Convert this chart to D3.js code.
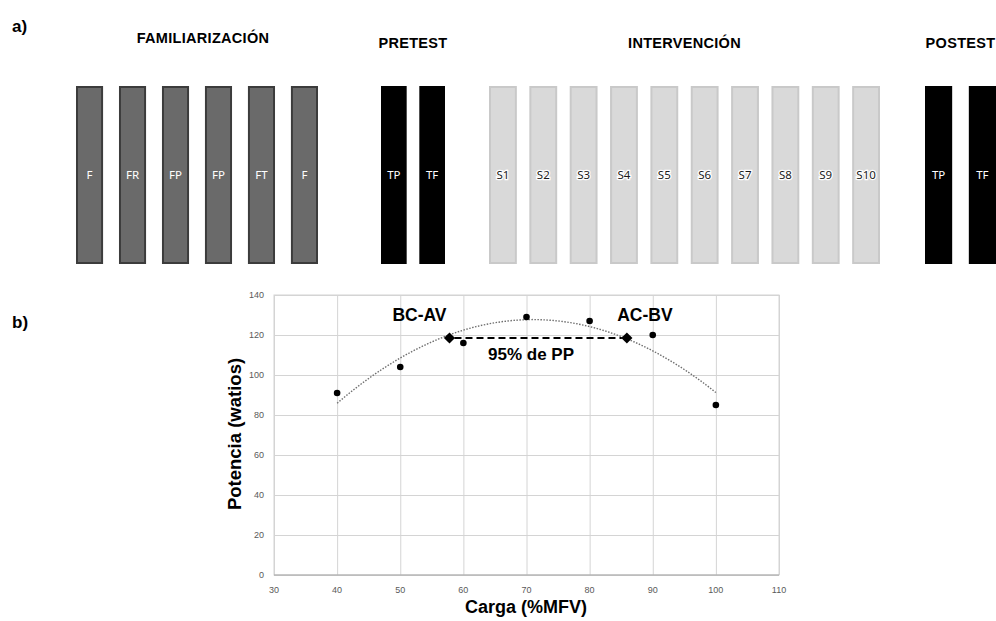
<!DOCTYPE html>
<html>
<head>
<meta charset="utf-8">
<script src="https://cdn.jsdelivr.net/npm/d3@7"></script>
<style>
  body { margin: 0; background: #fff; }
  svg { display: block; }
</style>
</head>
<body>
<svg width="996" height="621"></svg>
<script>
//phases of the study and the sessions inside each one
var phases = ["FAMILIARIZACIÓN", "PRETEST", "INTERVENCIÓN", "POSTEST"];
var famSessions = ["F", "FR", "FP", "FP", "FT", "F"];
var preSessions = ["TP", "TF"];
var intSessions = ["S1", "S2", "S3", "S4", "S5", "S6", "S7", "S8", "S9", "S10"];
var postSessions = ["TP", "TF"];

//load (%MFV) vs power (watts)
var carga = [40, 50, 60, 70, 80, 90, 100];
var potencia = [91, 104, 116, 129, 127, 120, 85];
//points where the curve crosses 95% of peak power
var cortes = [[57.8, 118.5], [85.9, 118.5]];
var corteLabels = ["BC-AV", "AC-BV"];

var xTicks = [30, 40, 50, 60, 70, 80, 90, 100, 110];
var yTicks = [0, 20, 40, 60, 80, 100, 120, 140];

var svg = d3.select("svg");

//---- panel a) ----
svg.append("text").attr("x", 12).attr("y", 32)
  .attr("font-family", "Liberation Sans, Arial").attr("font-weight", "bold")
  .attr("font-size", 17).text("a)");

var phaseSessions = [famSessions, preSessions, intSessions, postSessions];
var phaseRange = [[76, 318], [381, 445], [489, 880], [925, 996]];
var phasePad = [0.37, 0.33, 0.31, 0.38];
var phaseFill = ["#6a6a6a", "#000", "#d9d9d9", "#000"];
var phaseStroke = ["#3c3c3c", "#000", "#c9c9c9", "#000"];
var phaseText = ["#fff", "#fff", "#1a1a1a", "#fff"];

phases.forEach(function(p, i) {
  var band = d3.scaleBand()
    .domain(d3.range(phaseSessions[i].length))
    .range(phaseRange[i])
    .paddingInner(phasePad[i]);

  var g = svg.append("g").attr("class", "phase");

  g.append("text")
    .attr("x", (phaseRange[i][0] + phaseRange[i][1]) / 2 + (i == 0 ? 6 : 0))
    .attr("y", i == 0 ? 43 : 48)
    .attr("text-anchor", "middle")
    .attr("font-family", "Liberation Sans, Arial").attr("font-weight", "bold")
    .attr("font-size", 14.5).attr("letter-spacing", 0.3)
    .text(p);

  g.selectAll("rect")
    .data(phaseSessions[i])
    .enter().append("rect")
      .attr("x", function(d, j) { return band(j) + 1; })
      .attr("y", 87)
      .attr("width", band.bandwidth() - 2)
      .attr("height", 176)
      .attr("fill", phaseFill[i])
      .attr("stroke", phaseStroke[i])
      .attr("stroke-width", 2);

  g.selectAll("text.lab")
    .data(phaseSessions[i])
    .enter().append("text")
      .attr("class", "lab")
      .attr("x", function(d, j) { return band(j) + band.bandwidth() / 2; })
      .attr("y", 179)
      .attr("text-anchor", "middle")
      .attr("font-family", "Noto Sans, Open Sans")
      .attr("font-size", 11.5)
      .attr("fill", phaseText[i])
      .attr("stroke", i == 2 ? "#fff" : "none")
      .attr("stroke-width", 2.5)
      .attr("paint-order", "stroke")
      .text(function(d) { return d; });
});

//---- panel b) ----
svg.append("text").attr("x", 12).attr("y", 328)
  .attr("font-family", "Liberation Sans, Arial").attr("font-weight", "bold")
  .attr("font-size", 17).text("b)");

var x = d3.scaleLinear().domain([30, 110]).range([274, 779]);
var y = d3.scaleLinear().domain([0, 140]).range([575, 295]);

var chart = svg.append("g");

//gridlines
chart.append("g")
  .attr("transform", "translate(0,575)")
  .call(d3.axisBottom(x).tickValues(xTicks).tickSize(-280).tickFormat(""))
  .call(function(g) { g.select(".domain").remove(); })
  .selectAll("line").attr("stroke", "#d4d4d4");
chart.append("g")
  .attr("transform", "translate(274,0)")
  .call(d3.axisLeft(y).tickValues(yTicks).tickSize(-505).tickFormat(""))
  .call(function(g) { g.select(".domain").remove(); })
  .selectAll("line").attr("stroke", "#d4d4d4");
chart.append("rect").attr("x", 274).attr("y", 295).attr("width", 505).attr("height", 280)
  .attr("fill", "none").attr("stroke", "#d4d4d4");
chart.append("line").attr("x1", 274).attr("x2", 779).attr("y1", 575).attr("y2", 575)
  .attr("stroke", "#a6a6a6");

//tick labels
chart.selectAll("text.xt").data(xTicks).enter().append("text")
  .attr("x", function(d) { return x(d); }).attr("y", 593)
  .attr("text-anchor", "middle").attr("font-family", "Liberation Sans, Arial")
  .attr("font-size", 9).attr("fill", "#595959").text(function(d) { return d; });
chart.selectAll("text.yt").data(yTicks).enter().append("text")
  .attr("x", 264).attr("y", function(d) { return y(d) + 3; })
  .attr("text-anchor", "end").attr("font-family", "Liberation Sans, Arial")
  .attr("font-size", 9).attr("fill", "#595959").text(function(d) { return d; });

//axis titles
chart.append("text").attr("transform", "translate(241,434) rotate(-90)")
  .attr("text-anchor", "middle").attr("font-family", "Liberation Sans, Arial")
  .attr("font-weight", "bold").attr("font-size", 18.5).text("Potencia (watios)");
chart.append("text").attr("x", 526).attr("y", 613)
  .attr("text-anchor", "middle").attr("font-family", "Liberation Sans, Arial")
  .attr("font-weight", "bold").attr("font-size", 18).text("Carga (%MFV)");

//quadratic trend line fitted to the points (least squares)
var pts = carga.map(function(c, i) { return [c, potencia[i]]; });
var mx = d3.mean(carga);
var t = carga.map(function(c) { return (c - mx) / 10; });
var mt2 = d3.mean(t, function(v) { return v * v; });
var my = d3.mean(potencia);
var b1 = d3.sum(t, function(v, i) { return v * potencia[i]; }) / d3.sum(t, function(v) { return v * v; });
var b2 = d3.sum(t, function(v, i) { return (v * v - mt2) * potencia[i]; }) /
         d3.sum(t, function(v) { return (v * v - mt2) * (v * v - mt2); });
function fit(c) { var u = (c - mx) / 10; return my + b1 * u + b2 * (u * u - mt2); }
var curve = d3.range(d3.min(carga), d3.max(carga) + 0.5, 1).map(function(c) { return [c, fit(c)]; });

chart.append("path")
  .datum(curve)
  .attr("fill", "none").attr("stroke", "#6f6f6f").attr("stroke-width", 1.4)
  .attr("stroke-dasharray", "1.5,1.5")
  .attr("d", d3.line().x(function(d) { return x(d[0]); }).y(function(d) { return y(d[1]); }));

//dashed 95% line
chart.append("line")
  .attr("x1", x(cortes[0][0]) + 5).attr("x2", x(cortes[1][0]) - 5)
  .attr("y1", y(cortes[0][1])).attr("y2", y(cortes[1][1]))
  .attr("stroke", "#000").attr("stroke-width", 2).attr("stroke-dasharray", "7,4");

chart.selectAll("circle").data(pts).enter().append("circle")
  .attr("cx", function(d) { return x(d[0]); }).attr("cy", function(d) { return y(d[1]); })
  .attr("r", 3.3).attr("fill", "#000");

chart.selectAll("path.dia").data(cortes).enter().append("path")
  .attr("class", "dia")
  .attr("transform", function(d) { return "translate(" + x(d[0]) + "," + y(d[1]) + ") rotate(45)"; })
  .attr("d", d3.symbol().type(d3.symbolSquare).size(62)())
  .attr("fill", "#000");

chart.selectAll("text.cl").data(cortes).enter().append("text")
  .attr("x", function(d, i) { return x(d[0]) + (i == 0 ? -30 : 18); })
  .attr("y", 321)
  .attr("text-anchor", "middle").attr("font-family", "Liberation Sans, Arial")
  .attr("font-weight", "bold").attr("font-size", 17.5)
  .text(function(d, i) { return corteLabels[i]; });

chart.append("text").attr("x", 531).attr("y", 360)
  .attr("text-anchor", "middle").attr("font-family", "Liberation Sans, Arial")
  .attr("font-weight", "bold").attr("font-size", 17).text("95% de PP");
</script>
</body>
</html>
